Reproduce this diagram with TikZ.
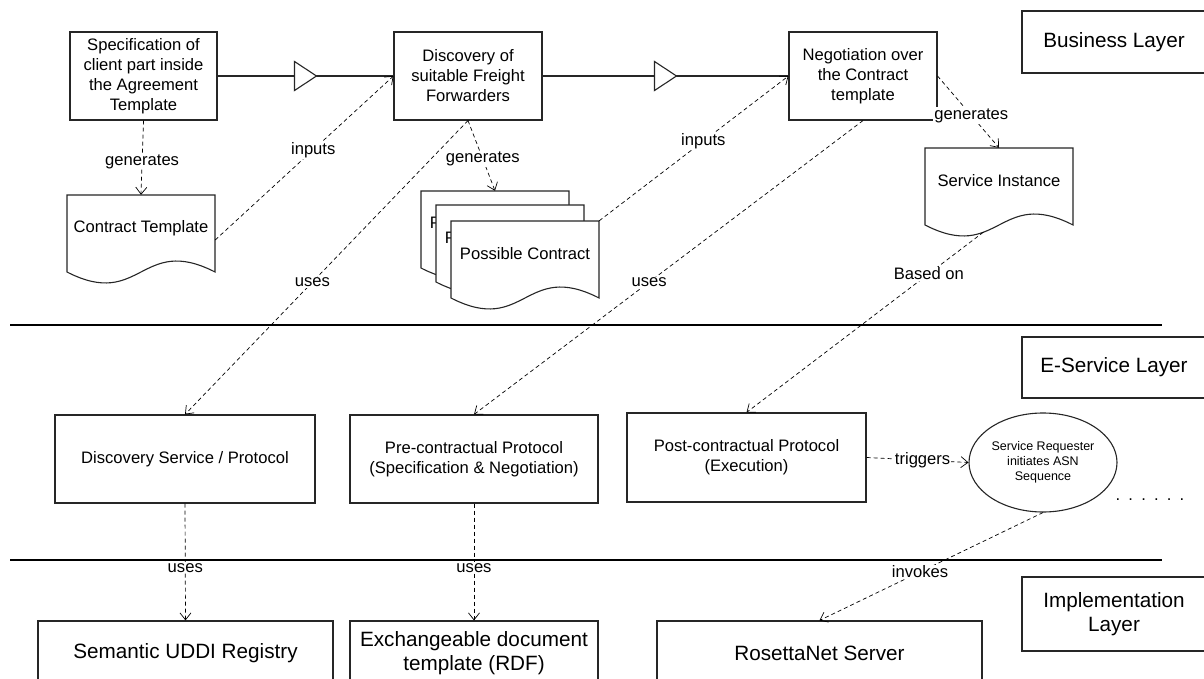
\documentclass[tikz,border=0pt]{standalone}
\usepackage{fontspec}
\setmainfont{Liberation Sans}
\usetikzlibrary{arrows.meta,decorations.markings,shapes.geometric}
\newcommand\normsz{\fontsize{16.6}{20}\selectfont}
\newcommand\bigsz{\fontsize{20.7}{24}\selectfont}
\newcommand\smsz{\fontsize{12.5}{15}\selectfont}
\tikzset{
  box/.style={draw=black!85, line width=1.1pt, fill=white, align=center, font=\normsz, inner sep=2pt},
  layerbox/.style={draw=black!85, line width=1.3pt, fill=white, align=center, font=\bigsz, minimum width=184pt},
  docline/.style={draw=black!85, line width=1.1pt, fill=white},
  docsty/.style={minimum width=148pt, minimum height=77pt, inner sep=0pt, font=\normsz, text height=12pt, text depth=13pt},
  conn/.style={dash pattern=on 4pt off 3pt, line width=0.7pt, -{Straight Barb[length=7pt,width=11pt,line width=0.7pt]}},
  lbl/.style={fill=white, inner sep=1pt, font=\normsz, pos=0.55},
  sepline/.style={line width=2.6pt},
  flow/.style={line width=1.1pt, draw=black!85, postaction={decorate},
    decoration={markings, mark=at position 0.5 with {\draw[fill=white,line width=1.1pt,solid] (-11pt,-14.5pt) -- (11pt,0pt) -- (-11pt,14.5pt) -- cycle;}}},
}
\newcommand\docshape[4]{%
  \draw[docline] (#2,#3) -- (#2+148,#3) -- (#2+148,#3+77) .. controls (#2+74,#3+39) and (#2+74,#3+115) .. (#2,#3+77) -- cycle;
  \node[docsty] (#1) at (#2+74,#3+38.5) {#4};
}
\begin{document}
\begin{tikzpicture}[x=1pt,y=-1pt]
\useasboundingbox (0,0) rectangle (1204,679);
% layer separators
\draw[sepline] (10,325) -- (1162,325);
\draw[sepline] (10,560) -- (1162,560);
% business layer
\node[box, minimum width=147pt, minimum height=88pt] (spec) at (143.5,76) {Specification of\\client part inside\\the Agreement\\Template};
\node[box, minimum width=148pt, minimum height=88pt] (disc) at (468,76) {Discovery of\\suitable Freight\\Forwarders};
\node[box, minimum width=148pt, minimum height=88pt] (nego) at (863,76) {Negotiation over\\the Contract\\template};
\node[layerbox, minimum height=62pt] (biz) at (1114,42) {Business Layer};
\docshape{ct}{67}{195}{Contract Template}
\docshape{pc1}{421}{191}{Possible Contract}
\docshape{pc2}{436}{205}{Possible Contract}
\docshape{pc3}{451}{221}{Possible Contract}
\docshape{si}{925}{148}{Service Instance}
% e-service layer
\node[layerbox, minimum height=61pt] (esl) at (1114,367.5) {E-Service Layer};
\node[box, minimum width=260pt, minimum height=88pt] (dsp) at (185,459) {Discovery Service / Protocol};
\node[box, minimum width=248pt, minimum height=88pt] (pre) at (474,459) {Pre-contractual Protocol\\(Specification \& Negotiation)};
\node[box, minimum width=239pt, minimum height=89pt] (post) at (746.5,457.5) {Post-contractual Protocol\\(Execution)};
\node[draw=black!85, ellipse, line width=1.1pt, fill=white, minimum width=148pt, minimum height=99pt, inner sep=0pt, font=\smsz, align=center] (ell) at (1043,462.5) {Service Requester\\initiates ASN\\Sequence};
\node[font=\normsz, inner sep=0pt] (dots) at (1150,500) {.\hspace{8.2pt}.\hspace{8.2pt}.\hspace{8.2pt}.\hspace{8.2pt}.\hspace{8.2pt}.};
% implementation layer
\node[layerbox, minimum height=74pt] (impl) at (1114,614) {Implementation\\Layer};
\node[box, font=\bigsz, minimum width=295pt, minimum height=64pt] (uddi) at (185.5,653) {Semantic UDDI Registry};
\node[box, font=\bigsz, minimum width=248pt, minimum height=64pt] (exch) at (474,653) {Exchangeable document\\template (RDF)};
\node[box, font=\bigsz, minimum width=325pt, minimum height=64pt] (rosetta) at (819.5,653) {RosettaNet Server};
% connectors
\draw[flow] (spec) -- (disc);
\draw[flow] (disc) -- (nego);
\draw[conn] (spec.south) -- node[lbl]{generates} (ct.north);
\draw[conn] (ct.-5) -- node[lbl]{inputs} (disc.west);
\draw[conn] (disc.south) -- node[lbl]{uses} (dsp.north);
\draw[conn] (disc.south) -- node[lbl]{generates} (pc1.north);
\draw[conn] (pc3.north east) -- node[lbl]{inputs} (nego.west);
\draw[conn] (nego.south) -- node[lbl]{uses} (pre.north);
\draw[conn] (nego.east) -- node[lbl]{generates} (si.north);
\draw[conn] ([yshift=-7pt]si.-112) -- node[lbl,pos=0.23]{Based on} (post.north);
\draw[conn] (post.east) -- node[lbl]{triggers} (ell.west);
\draw[conn] (dsp.south) -- node[lbl]{uses} (uddi.north);
\draw[conn] (pre.south) -- node[lbl]{uses} (exch.north);
\draw[conn] (ell.south) -- node[lbl]{invokes} (rosetta.north);
\end{tikzpicture}
\end{document}
